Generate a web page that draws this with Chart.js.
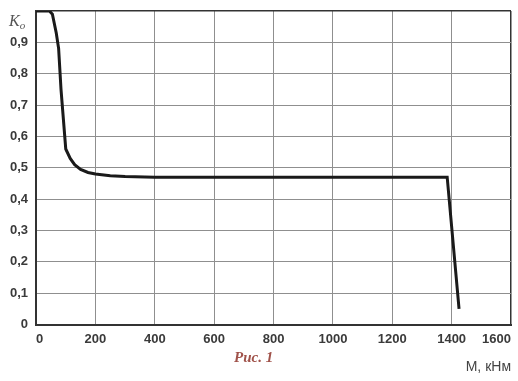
<!DOCTYPE html>
<html>
<head>
<meta charset="utf-8">
<script src="https://cdn.jsdelivr.net/npm/chart.js@4/dist/chart.umd.min.js"></script>
<style>
  html,body{margin:0;padding:0;background:#fff;}
  #wrap{position:relative;width:518px;height:381px;}
  #fig{position:absolute;left:234px;top:349px;font-family:"Liberation Serif",serif;font-style:italic;font-weight:bold;font-size:15px;color:#a0524a;}
  #ylab{position:absolute;left:9px;top:12px;font-family:"Liberation Serif",serif;font-style:italic;font-size:16px;color:#555;}
  #ylab sub{font-size:11px;vertical-align:-3px;}
</style>
</head>
<body>
<div id="wrap">
<canvas id="c" width="518" height="381"></canvas>
<div id="fig">Рис. 1</div>
<div id="ylab">K<sub>o</sub></div>
</div>
<script>
const mValues = [0, 45, 55, 68, 76, 84, 100, 115, 130, 150, 175, 200, 250, 300, 400, 700, 1385, 1425];
const koValues = [1.0, 1.0, 0.99, 0.93, 0.88, 0.75, 0.56, 0.53, 0.51, 0.495, 0.485, 0.48, 0.475, 0.472, 0.47, 0.47, 0.47, 0.05];
const xTicks = [0, 200, 400, 600, 800, 1000, 1200, 1400, 1600];
const yTicks = [0, 0.1, 0.2, 0.3, 0.4, 0.5, 0.6, 0.7, 0.8, 0.9, 1.0];
const xTitle = 'М, кНм';

const points = mValues.map((m, i) => ({x: m, y: koValues[i]}));

new Chart(document.getElementById('c'), {
  type: 'line',
  data: {
    datasets: [{
      data: points,
      borderColor: '#1a1a1a',
      borderWidth: 3,
      pointRadius: 0,
      tension: 0,
      fill: false
    }]
  },
  options: {
    responsive: false,
    animation: false,
    layout: {padding: {top: 11, right: 7, left: 2, bottom: 0}},
    plugins: {legend: {display: false}, tooltip: {enabled: false}},
    scales: {
      x: {
        type: 'linear', min: 0, max: 1600,
        afterBuildTicks: s => { s.ticks = xTicks.map(v => ({value: v})); },
        ticks: {
          color: '#3a3a3a', padding: 7, align: 'inner',
          font: {family: 'Liberation Sans, Arial', weight: 'bold', size: 13},
          callback: v => String(v)
        },
        grid: {
          color: ctx => ctx.tick && ctx.tick.value === 1600 ? '#333' : '#8f8f8f',
          lineWidth: ctx => ctx.tick && ctx.tick.value === 1600 ? 1.5 : 1,
          drawTicks: false
        },
        border: {color: '#333', width: 2},
        title: {
          display: true, text: xTitle, align: 'end', color: '#444',
          font: {family: 'Liberation Sans, Arial', size: 14}, padding: {top: 5, bottom: 5}
        }
      },
      y: {
        type: 'linear', min: 0, max: 1,
        afterBuildTicks: s => { s.ticks = yTicks.map(v => ({value: v})); },
        ticks: {
          color: '#3a3a3a', padding: 8,
          font: ctx => (ctx.tick && ctx.tick.value === 1)
            ? {family: 'Liberation Sans, Arial', size: 1}
            : {family: 'Liberation Sans, Arial', weight: 'bold', size: 13},
          callback: v => v === 1 ? '' : (v === 0 ? '0' : v.toFixed(1).replace('.', ','))
        },
        grid: {
          color: ctx => ctx.tick && ctx.tick.value === 1 ? '#333' : '#8f8f8f',
          lineWidth: ctx => ctx.tick && ctx.tick.value === 1 ? 1.5 : 1,
          drawTicks: false
        },
        border: {color: '#333', width: 2}
      }
    }
  }
});
</script>
</body>
</html>
